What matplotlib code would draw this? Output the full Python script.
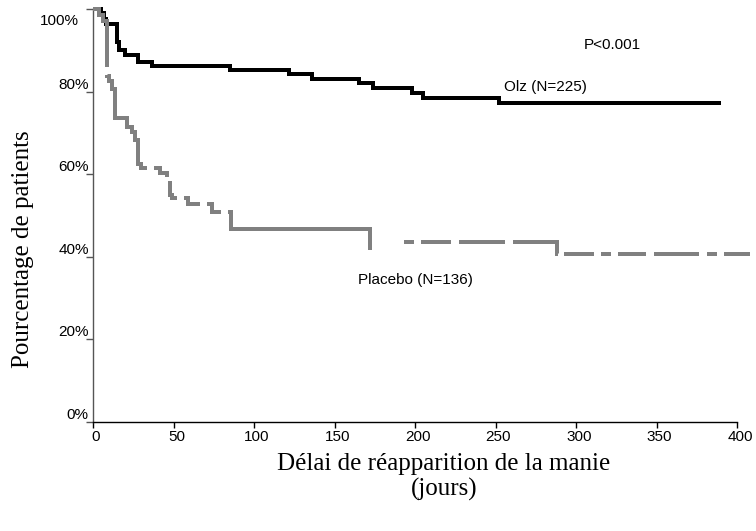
import matplotlib
matplotlib.use("Agg")
import matplotlib.pyplot as plt
import matplotlib.transforms as mtransforms
import numpy as np

plt.rcParams['lines.scale_dashes'] = False

# ---- data ----
olz_days = [0, 5, 7, 8, 15, 16, 20, 28, 36.5, 85, 122, 136, 165, 174, 198, 205, 252, 390]
olz_surv = [100, 99, 97.5, 96.4, 92, 90, 88.9, 87.2, 86.2, 85.2, 84.3, 83, 82.2, 80.8, 79.7, 78.4, 77.2, 77.2]

pla_days_a = [0, 4, 6, 8.5, 10, 12, 13.7, 21, 24, 26, 28.2, 30, 41.5, 46, 47.8, 49, 59, 74, 85.5, 172]
pla_surv_a = [100, 98.5, 97, 83.8, 82.5, 80.6, 73.5, 71.5, 70.2, 68.3, 62.5, 61.4, 60.2, 58.6, 55.0, 54.2, 52.8, 50.8, 46.8, 41.6]
pla_days_b = [193, 288, 408]
pla_surv_b = [43.6, 40.7, 40.7]

x_ticks = [0, 50, 100, 150, 200, 250, 300, 350, 400]
y_ticks = [0, 20, 40, 60, 80, 100]
y_tick_labels = ['0%', '20%', '40%', '60%', '80%', '100%']

label_olz = 'Olz (N=225)'
label_pla = 'Placebo (N=136)'
label_p = 'P<0.001'

W, H = 756, 531
fig = plt.figure(figsize=(W / 100, H / 100), dpi=100)
ax = fig.add_axes([93 / W, (H - 422) / H, (737 - 93) / W, (422 - 9) / H])

px = 0.72  # points per pixel at 100 dpi
GRAY = '#808080'
SANS = 'Liberation Sans'
SERIF = 'Liberation Serif'

ax.plot(olz_days, olz_surv, drawstyle='steps-post', color='black', lw=4 * px,
        solid_joinstyle='miter', solid_capstyle='butt', zorder=3, clip_on=False)

dash_a = [v * px for v in [72, 8, 133, 7, 22, 7, 24, 7, 22, 7, 22, 7, 400]]
ax.plot(pla_days_a, pla_surv_a, drawstyle='steps-post', color=GRAY, lw=4 * px,
        dashes=dash_a, dash_joinstyle='miter', dash_capstyle='butt', zorder=4, clip_on=False)
dash_b = [v * px for v in [10, 7, 30, 8, 46, 8, 57, 6, 30, 7, 10, 7, 28, 8, 45, 8, 10, 7, 30, 8]]
ax.plot(pla_days_b, pla_surv_b, drawstyle='steps-post', color=GRAY, lw=4 * px,
        dashes=dash_b, dash_joinstyle='miter', dash_capstyle='butt', zorder=4, clip_on=False)

ax.set_xlim(0, 400)
ax.set_ylim(0, 100)

for s in ['top', 'right']:
    ax.spines[s].set_visible(False)
ax.spines['left'].set_color('#555555')
ax.spines['bottom'].set_color('black')
ax.spines['left'].set_linewidth(1.0)
ax.spines['bottom'].set_linewidth(1.0)

ax.set_xticks(x_ticks)
ax.set_xticklabels([str(v) for v in x_ticks], fontsize=11, family=SANS)
ax.set_yticks(y_ticks)
ax.set_yticklabels(y_tick_labels, fontsize=11, family=SANS)
ax.tick_params(axis='y', direction='out', length=5, width=1, color='#555555', pad=-2)
ax.tick_params(axis='x', direction='out', length=4, width=1, color='black', pad=2)

for lab in ax.get_yticklabels():
    lab.set_verticalalignment('bottom')
ylabs = ax.get_yticklabels()
ylabs[-1].set_verticalalignment('top')
ylabs[-1].set_transform(ylabs[-1].get_transform() +
                        mtransforms.ScaledTranslation(-10 / 100, -5 / 100, fig.dpi_scale_trans))
for lab in ax.get_xticklabels():
    lab.set_transform(lab.get_transform() +
                      mtransforms.ScaledTranslation(3 / 100, 0, fig.dpi_scale_trans))

ax.text(255, 81.1, label_olz, fontsize=11, family=SANS, va='center', ha='left')
ax.text(164.5, 34.4, label_pla, fontsize=11, family=SANS, va='center', ha='left')
ax.text(305, 91.3, label_p, fontsize=11, family=SANS, va='center', ha='left')

fig.text(23 / W, 1 - 249 / H, 'Pourcentage de patients', rotation=90, ha='center', va='center',
         fontsize=18, family=SERIF)
fig.text(444 / W, 1 - 477 / H, 'Délai de réapparition de la manie\n(jours)', ha='center', va='center',
         fontsize=18, family=SERIF, linespacing=1.15, multialignment='center')

fig.savefig('out.png', dpi=100)
